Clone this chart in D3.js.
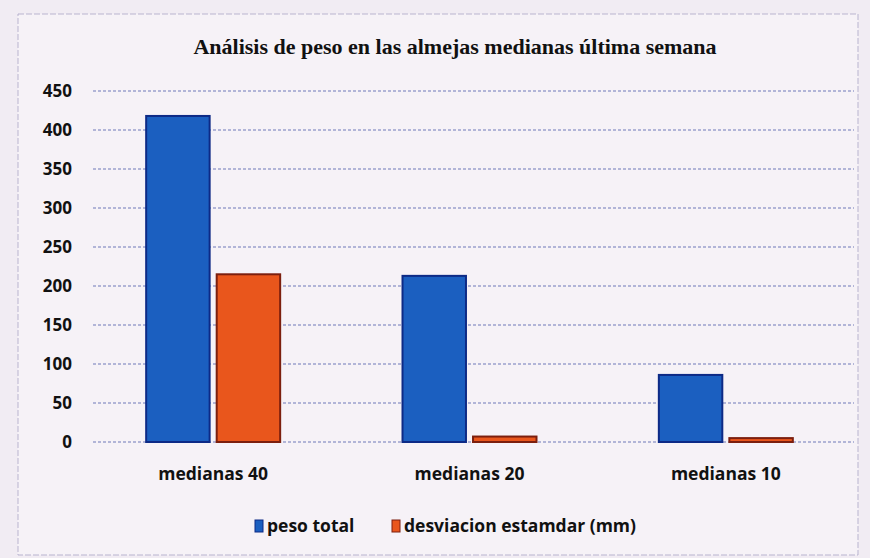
<!DOCTYPE html>
<html>
<head>
<meta charset="utf-8">
<script src="https://cdn.jsdelivr.net/npm/d3@7"></script>
<style>
  body { margin: 0; background: #f1ecf3; }
  svg { display: block; }
</style>
</head>
<body>
<div id="chart"></div>
<script>
const categories = ["medianas 40", "medianas 20", "medianas 10"];
const seriesNames = ["peso total", "desviacion estamdar (mm)"];
const pesoTotal = [418, 213, 86];
const desviacion = [215, 7, 5];
const yTicks = [0, 50, 100, 150, 200, 250, 300, 350, 400, 450];

const W = 870, H = 558;
const margin = {top: 91, right: 16, bottom: 116, left: 85};
const width = W - margin.left - margin.right,
      height = H - margin.top - margin.bottom;

const svg = d3.select("#chart")
  .append("svg")
    .attr("width", W)
    .attr("height", H);

// chart area frame
svg.append("rect")
  .attr("x", 18).attr("y", 14)
  .attr("width", W - 30).attr("height", H - 17)
  .attr("fill", "#f6f2f7")
  .attr("stroke", "#b9b4cf")
  .attr("stroke-dasharray", "6,2");

svg.append("text")
  .attr("x", 455).attr("y", 54)
  .attr("text-anchor", "middle")
  .style("font-family", "'Liberation Serif', serif")
  .style("font-weight", "bold")
  .style("font-size", "22px")
  .attr("fill", "#111")
  .text("Análisis de peso en las almejas medianas última semana");

const g = svg.append("g")
  .attr("transform", `translate(${margin.left},${margin.top})`);

const x = d3.scaleBand()
  .domain(categories)
  .range([0, width]);

const xs = d3.scaleBand()
  .domain(seriesNames)
  .range([0, 134])
  .paddingInner(0.1);

const y = d3.scaleLinear()
  .domain([0, 450])
  .range([height, 0]);

// gridlines
g.append("g")
  .selectAll("line")
  .data(yTicks)
  .enter()
  .append("line")
    .attr("x1", 8).attr("x2", width)
    .attr("y1", d => y(d)).attr("y2", d => y(d))
    .attr("stroke", "#6f78b8")
    .attr("stroke-width", 1)
    .attr("stroke-dasharray", "3,2");

// y axis labels
g.append("g")
  .call(d3.axisLeft(y).tickValues(yTicks).tickSize(0).tickPadding(13))
  .call(ax => ax.select(".domain").remove())
  .selectAll("text")
    .style("font-family", "'Open Sans', sans-serif")
    .style("font-weight", "bold")
    .style("font-size", "17px")
    .attr("fill", "#111");

// x axis labels
g.append("g")
  .attr("transform", `translate(0,${height})`)
  .call(d3.axisBottom(x).tickSize(0).tickPadding(26))
  .call(ax => ax.select(".domain").remove())
  .selectAll("text")
    .style("font-family", "'Open Sans', sans-serif")
    .style("font-weight", "bold")
    .style("font-size", "17.5px")
    .attr("fill", "#111");

const rows = categories.map((c, i) => ({cat: c, vals: [pesoTotal[i], desviacion[i]]}));
const fills = ["#1b5fc0", "#e9561c"];
const strokes = ["#0d2a86", "#7c1f0e"];

const groups = g.selectAll(".grp")
  .data(rows)
  .enter()
  .append("g")
    .attr("transform", d => `translate(${x(d.cat) + x.bandwidth() / 2 - 67},0)`);

groups.selectAll("rect")
  .data(d => d.vals.map((v, k) => ({name: seriesNames[k], v: v, k: k})))
  .enter()
  .append("rect")
    .attr("x", d => xs(d.name))
    .attr("width", xs.bandwidth())
    .attr("y", d => y(d.v))
    .attr("height", d => height - y(d.v))
    .attr("fill", d => fills[d.k])
    .attr("stroke", d => strokes[d.k])
    .attr("stroke-width", 2);

// legend
const legend = svg.append("g")
  .attr("transform", "translate(255,532)");
const legX = [0, 137];
seriesNames.forEach((s, k) => {
  const lg = legend.append("g").attr("transform", `translate(${legX[k]},0)`);
  lg.append("rect")
    .attr("x", 0).attr("y", -12)
    .attr("width", 8).attr("height", 12)
    .attr("fill", fills[k])
    .attr("stroke", strokes[k]);
  lg.append("text")
    .attr("x", 12).attr("y", 0)
    .style("font-family", "'Open Sans', sans-serif")
    .style("font-weight", "bold")
    .style("font-size", "17.5px")
    .attr("fill", "#111")
    .text(s);
});
</script>
</body>
</html>
